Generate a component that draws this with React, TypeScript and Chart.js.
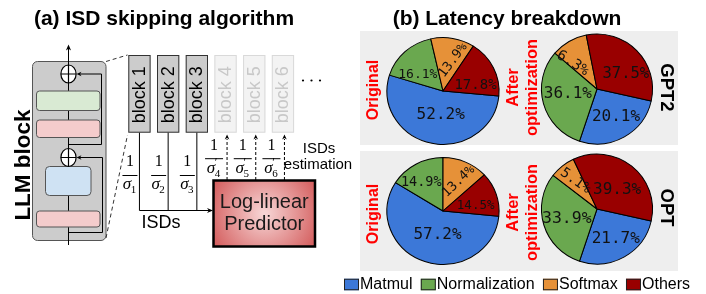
import React, { useEffect, useRef } from 'react';
import { Chart, registerables } from 'chart.js';

Chart.register(...registerables);

// ---------- data ----------
const categories = ['Matmul', 'Normalization', 'Softmax', 'Others'];
const sliceColors = ['#3c78d8', '#6aa84f', '#e69138', '#990000'];

// wedge shares as drawn in the picture (percent)
const gpt2OriginalSlices = [53.3, 16.7, 12.6, 17.4];
const gpt2AfterSlices = [26.6, 31.2, 10.6, 31.6];
const optOriginalSlices = [57.4, 16.1, 13.2, 13.4];
const optAfterSlices = [26.6, 30.4, 7.5, 35.5];

// printed percentages
const gpt2OriginalLabels = [52.2, 16.1, 13.9, 17.8];
const gpt2AfterLabels = [20.1, 36.1, 6.3, 37.5];
const optOriginalLabels = [57.2, 14.9, 13.4, 14.5];
const optAfterLabels = [21.7, 33.9, 5.1, 39.3];

const blockNames = ['block 1', 'block 2', 'block 3', 'block 4', 'block 5', 'block 6'];
const measuredBlockCount = 3;
const modelNames = ['GPT2', 'OPT'];
const stageNames = ['Original', 'After\noptimization'];

// ---------- helpers ----------
const SANS = '"Liberation Sans", Arial, sans-serif';
const SERIF = '"Liberation Serif", "DejaVu Serif", serif';
const MONO = '"DejaVu Sans Mono", monospace';

function rrect(ctx: CanvasRenderingContext2D, x: number, y: number, w: number, h: number, r: number, fill: string | CanvasGradient | null, stroke: string | null, lw = 1) {
  ctx.beginPath();
  ctx.moveTo(x + r, y);
  ctx.lineTo(x + w - r, y);
  ctx.arcTo(x + w, y, x + w, y + r, r);
  ctx.lineTo(x + w, y + h - r);
  ctx.arcTo(x + w, y + h, x + w - r, y + h, r);
  ctx.lineTo(x + r, y + h);
  ctx.arcTo(x, y + h, x, y + h - r, r);
  ctx.lineTo(x, y + r);
  ctx.arcTo(x, y, x + r, y, r);
  ctx.closePath();
  if (fill) { ctx.fillStyle = fill; ctx.fill(); }
  if (stroke) { ctx.strokeStyle = stroke; ctx.lineWidth = lw; ctx.stroke(); }
}

function line(ctx: CanvasRenderingContext2D, x1: number, y1: number, x2: number, y2: number, color = '#000', lw = 1, dash: number[] = []) {
  ctx.save();
  ctx.beginPath();
  ctx.setLineDash(dash);
  ctx.strokeStyle = color;
  ctx.lineWidth = lw;
  ctx.moveTo(x1, y1);
  ctx.lineTo(x2, y2);
  ctx.stroke();
  ctx.restore();
}

function arrowHead(ctx: CanvasRenderingContext2D, x: number, y: number, angle: number, len = 6, half = 2.6, color = '#000') {
  ctx.save();
  ctx.translate(x, y);
  ctx.rotate(angle);
  ctx.beginPath();
  ctx.moveTo(0, 0);
  ctx.lineTo(-len, -half);
  ctx.lineTo(-len * 0.7, 0);
  ctx.lineTo(-len, half);
  ctx.closePath();
  ctx.fillStyle = color;
  ctx.fill();
  ctx.restore();
}

function text(ctx: CanvasRenderingContext2D, s: string, x: number, y: number, font: string, color = '#000', rot = 0, align: CanvasTextAlign = 'center', base: CanvasTextBaseline = 'middle') {
  ctx.save();
  ctx.translate(x, y);
  if (rot) ctx.rotate((rot * Math.PI) / 180);
  ctx.font = font;
  ctx.fillStyle = color;
  ctx.textAlign = align;
  ctx.textBaseline = base;
  ctx.fillText(s, 0, 0);
  ctx.restore();
}

function plusCircle(ctx: CanvasRenderingContext2D, cx: number, cy: number) {
  ctx.save();
  ctx.beginPath();
  ctx.ellipse(cx, cy, 7.6, 9, 0, 0, Math.PI * 2);
  ctx.fillStyle = '#fff';
  ctx.fill();
  ctx.strokeStyle = '#000';
  ctx.lineWidth = 1.2;
  ctx.stroke();
  ctx.beginPath();
  ctx.moveTo(cx - 7.6, cy);
  ctx.lineTo(cx + 7.6, cy);
  ctx.moveTo(cx, cy - 9);
  ctx.lineTo(cx, cy + 9);
  ctx.stroke();
  ctx.restore();
}

function fraction(ctx: CanvasRenderingContext2D, cx: number, yOne: number, yBar: number, ySig: number, sub: string, prime: boolean, barW: number) {
  text(ctx, '1', cx, yOne, `16px ${SERIF}`, '#000');
  line(ctx, cx - barW / 2, yBar, cx + barW / 2, yBar, '#000', 1);
  ctx.save();
  ctx.font = `italic 17px ${SERIF}`;
  const sw = ctx.measureText('σ').width;
  ctx.restore();
  const total = sw + 6;
  const sx = cx - total / 2;
  text(ctx, 'σ', sx, ySig, `italic 17px ${SERIF}`, '#000', 0, 'left', 'alphabetic');
  text(ctx, sub, sx + sw - 0.5, ySig + 4, `11px ${SERIF}`, '#000', 0, 'left', 'alphabetic');
  if (prime) text(ctx, '′', sx + sw - 0.5, ySig - 7, `12px ${SERIF}`, '#000', 0, 'left', 'alphabetic');
}

function drawBackground(ctx: CanvasRenderingContext2D) {
  ctx.save();
  // titles
  text(ctx, '(a) ISD skipping algorithm', 164, 24.5, `bold 21px ${SANS}`, '#000', 0, 'center', 'alphabetic');
  text(ctx, '(b) Latency breakdown', 507, 24.5, `bold 21px ${SANS}`, '#000', 0, 'center', 'alphabetic');

  // ---- LLM block ----
  rrect(ctx, 32.5, 61.5, 73.5, 179, 5, '#cccccc', '#555', 1);
  line(ctx, 68.5, 245, 68.5, 47, '#000', 1);
  arrowHead(ctx, 68.5, 44.5, -Math.PI / 2);
  // residual connections
  line(ctx, 68.5, 144.5, 101.5, 144.5);
  line(ctx, 101.5, 144.5, 101.5, 74);
  line(ctx, 101.5, 74, 79, 74);
  arrowHead(ctx, 76.5, 74, Math.PI, 5, 2.3);
  line(ctx, 68.5, 232.5, 102.5, 232.5);
  line(ctx, 102.5, 232.5, 102.5, 157.5);
  line(ctx, 102.5, 157.5, 79, 157.5);
  arrowHead(ctx, 76.5, 157.5, Math.PI, 5, 2.3);
  rrect(ctx, 36.5, 91, 63.5, 19.5, 3, '#d9ead3', '#555', 1);
  rrect(ctx, 36.5, 120, 63.5, 17.5, 3, '#f4cccc', '#555', 1);
  rrect(ctx, 45.5, 166.5, 45.5, 29, 4, '#cfe2f3', '#555', 1);
  rrect(ctx, 36.5, 211, 63.5, 16, 3, '#f4cccc', '#555', 1);
  plusCircle(ctx, 68.5, 74);
  plusCircle(ctx, 68.5, 157.5);
  text(ctx, 'LLM block', 23.5, 165, `bold 22.5px ${SANS}`, '#000', -90);

  // zoom dashes
  line(ctx, 106, 61.5, 127.5, 55, '#333', 1, [4, 3]);
  line(ctx, 106, 238, 127.5, 135, '#333', 1, [4, 3]);

  // ---- blocks ----
  const bx0 = 128.3, pitch = 28.7, bw = 22.3, by = 55, bh = 77.7;
  const centers: number[] = [];
  blockNames.forEach((name, i) => {
    const x = bx0 + i * pitch;
    const cx = x + bw / 2;
    centers.push(cx);
    const measured = i < measuredBlockCount;
    ctx.save();
    ctx.fillStyle = measured ? '#cccccc' : '#f3f3f3';
    ctx.fillRect(x, by, bw, bh);
    ctx.strokeStyle = measured ? '#333' : '#d9d9d9';
    ctx.lineWidth = 1;
    ctx.strokeRect(x + 0.5, by + 0.5, bw - 1, bh - 1);
    ctx.restore();
    text(ctx, name, cx + 0.5, by + bh / 2 + 1, `18px ${SANS}`, measured ? '#000' : '#c8c8c8', -90);
  });
  // ellipsis
  [303, 311.5, 320].forEach((x) => {
    ctx.beginPath();
    ctx.arc(x, 80.5, 1.1, 0, Math.PI * 2);
    ctx.fillStyle = '#000';
    ctx.fill();
  });

  // measured ISDs lines
  const yIsd = 210.5;
  for (let i = 0; i < measuredBlockCount; i++) {
    line(ctx, centers[i], by + bh, centers[i], yIsd);
    fraction(ctx, centers[i] - 9.5, 162, 175.5, 189, String(i + 1), false, 15);
  }
  line(ctx, centers[0], yIsd, 209, yIsd);
  arrowHead(ctx, 213, yIsd, 0, 6, 2.6);
  text(ctx, 'ISDs', 161, 223.5, `18px ${SANS}`, '#000');

  // estimated ISDs
  for (let i = measuredBlockCount; i < blockNames.length; i++) {
    const x = centers[i] + 1.5;
    line(ctx, x, 180, x, 139, '#000', 1, [3, 2]);
    arrowHead(ctx, x, 134.5, -Math.PI / 2, 5, 2.3);
    fraction(ctx, centers[i] - 11.5, 145.5, 158.7, 173, String(i + 1), true, 18);
  }
  text(ctx, 'ISDs', 319, 149, `15px ${SANS}`, '#000');
  text(ctx, 'estimation', 318, 164.5, `15px ${SANS}`, '#000');

  // predictor
  const px = 213.5, py = 180.5, pw = 101.5, ph = 66;
  const g = ctx.createRadialGradient(px + pw / 2, py + ph / 2, 2, px + pw / 2, py + ph / 2, 62);
  g.addColorStop(0, '#f6d3d3');
  g.addColorStop(1, '#d25757');
  ctx.save();
  ctx.fillStyle = g;
  ctx.fillRect(px, py, pw, ph);
  ctx.strokeStyle = '#000';
  ctx.lineWidth = 2.5;
  ctx.strokeRect(px, py, pw, ph);
  ctx.restore();
  text(ctx, 'Log-linear', px + pw / 2, 202, `20px ${SANS}`, '#1a1a1a');
  text(ctx, 'Predictor', px + pw / 2, 224.5, `20px ${SANS}`, '#1a1a1a');

  // ---- pie panels ----
  ctx.fillStyle = '#eeeeee';
  ctx.fillRect(360, 31, 318, 114);
  ctx.fillRect(360, 151, 318, 120);

  const rowY = [[90, 87.5], [214, 212.5]];
  const modelY = [87.5, 207.5];
  rowY.forEach((ys, r) => {
    text(ctx, stageNames[0], 374, ys[0], `bold 16px ${SANS}`, '#ff0000', -90);
    const parts = stageNames[1].split('\n');
    text(ctx, parts[0], 513.5, ys[1], `bold 16.5px ${SANS}`, '#ff0000', -90);
    text(ctx, parts[1], 532, ys[1], `bold 16.5px ${SANS}`, '#ff0000', -90);
    text(ctx, modelNames[r], 666, modelY[r], `bold 18.5px ${SANS}`, '#000', 90);
  });

  // ---- legend ----
  const lf = `16px ${SANS}`;
  ctx.font = lf;
  const boxW = 15, boxH = 11.5, gapText = 1;
  const widths = categories.map((c) => ctx.measureText(c).width);
  const startX = 344, endX = 690;
  const used = widths.reduce((a, b) => a + b, 0) + categories.length * (boxW + gapText);
  const gap = (endX - startX - used) / (categories.length - 1);
  let lx = startX;
  const ly = 284.5;
  categories.forEach((c, i) => {
    ctx.fillStyle = sliceColors[i];
    ctx.fillRect(lx, ly - boxH / 2, boxW, boxH);
    ctx.strokeStyle = '#222';
    ctx.lineWidth = 1;
    ctx.strokeRect(lx + 0.5, ly - boxH / 2 + 0.5, boxW - 1, boxH - 1);
    text(ctx, c, lx + boxW + gapText, ly + 0.5, lf, '#000', 0, 'left', 'middle');
    lx += boxW + gapText + widths[i] + gap;
  });
  ctx.restore();
}

// ---------- pies ----------
type PieSpec = {
  slices: number[];
  labels: number[];
  cx: number;
  cy: number;
  rotation: number;
  radius: number;
  scaleX: number;
  shift: number[];
  rf: number[];
  size: number[];
  rot: number[];
};

const pies: PieSpec[] = [
  { slices: gpt2OriginalSlices, labels: gpt2OriginalLabels, cx: 443, cy: 91, rotation: 95.4, radius: 53.4, scaleX: 1.05,
    shift: [-6, -13.6, 7.3, 15.3], rf: [0.44, 0.54, 0.6, 0.59], size: [16, 13, 13, 14], rot: [0, 0, -53, 0] },
  { slices: gpt2AfterSlices, labels: gpt2AfterLabels, cx: 597, cy: 89, rotation: 102.6, radius: 55, scaleX: 1.01,
    shift: [-4.5, 6.7, -13, 15.8], rf: [0.61, 0.53, 0.64, 0.59], size: [16, 16, 14.5, 15.5], rot: [0, 0, 32, 0] },
  { slices: optOriginalSlices, labels: optOriginalLabels, cx: 443, cy: 211, rotation: 95.7, radius: 53.4, scaleX: 1.05,
    shift: [-6.3, -7, 2.9, 9.1], rf: [0.45, 0.66, 0.62, 0.59], size: [16, 13.5, 13, 12.5], rot: [0, 0, -44, 0] },
  { slices: optAfterSlices, labels: optAfterLabels, cx: 597, cy: 209, rotation: 102.6, radius: 55, scaleX: 1.01,
    shift: [-2.4, -0.8, 1.3, 7.7], rf: [0.64, 0.57, 0.64, 0.5], size: [16, 16.5, 14, 16], rot: [0, 0, 35, 0] },
];

const PIE_BOX = 130;

function piePlugin(spec: PieSpec) {
  return {
    id: 'pieDecor',
    beforeDatasetsDraw(chart: any) {
      const arc = chart.getDatasetMeta(0).data[0];
      const ctx = chart.ctx;
      ctx.save();
      ctx.translate(arc.x, arc.y);
      ctx.scale(spec.scaleX, 1);
      ctx.translate(-arc.x, -arc.y);
    },
    afterDatasetsDraw(chart: any) {
      const ctx = chart.ctx as CanvasRenderingContext2D;
      ctx.restore();
      const arcs = chart.getDatasetMeta(0).data;
      arcs.forEach((a: any, i: number) => {
        const mid = (a.startAngle + a.endAngle) / 2 + (spec.shift[i] * Math.PI) / 180;
        const r = a.outerRadius * spec.rf[i];
        const x = a.x + Math.cos(mid) * r * spec.scaleX;
        const y = a.y + Math.sin(mid) * r;
        text(ctx, spec.labels[i].toFixed(1) + '%', x, y, `${spec.size[i]}px ${MONO}`, '#111', spec.rot[i]);
      });
    },
  };
}

export default function App() {
  const bgRef = useRef<HTMLCanvasElement>(null);
  const p0 = useRef<HTMLCanvasElement>(null);
  const p1 = useRef<HTMLCanvasElement>(null);
  const p2 = useRef<HTMLCanvasElement>(null);
  const p3 = useRef<HTMLCanvasElement>(null);
  const pieRefs = [p0, p1, p2, p3];

  useEffect(() => {
    document.body.style.margin = '0';
    const charts: Chart[] = [];
    charts.push(
      new Chart(bgRef.current as HTMLCanvasElement, {
        type: 'bar',
        data: { labels: [], datasets: [] },
        options: {
          responsive: false,
          animation: false,
          devicePixelRatio: 1,
          events: [],
          plugins: { legend: { display: false }, tooltip: { enabled: false } },
          scales: { x: { display: false }, y: { display: false } },
        },
        plugins: [{ id: 'diagram', beforeDraw: (c: any) => drawBackground(c.ctx) }],
      } as any)
    );
    pies.forEach((spec, i) => {
      charts.push(
        new Chart(pieRefs[i].current as HTMLCanvasElement, {
          type: 'pie',
          data: {
            labels: categories,
            datasets: [
              {
                data: spec.slices,
                backgroundColor: sliceColors,
                borderColor: '#000',
                borderWidth: 1,
              },
            ],
          },
          options: {
            responsive: false,
            animation: false,
            devicePixelRatio: 1,
            events: [],
            rotation: spec.rotation,
            radius: spec.radius,
            layout: { padding: 0 },
            plugins: { legend: { display: false }, tooltip: { enabled: false } },
          },
          plugins: [piePlugin(spec)],
        } as any)
      );
    });
    return () => charts.forEach((c) => c.destroy());
  }, []);

  return (
    <div style={{ position: 'relative', width: 706, height: 294, background: '#fff', overflow: 'hidden' }}>
      <canvas ref={bgRef} width={706} height={294} style={{ position: 'absolute', left: 0, top: 0 }} />
      {pies.map((p, i) => (
        <canvas
          key={i}
          ref={pieRefs[i]}
          width={PIE_BOX}
          height={PIE_BOX}
          style={{ position: 'absolute', left: p.cx - PIE_BOX / 2, top: p.cy - PIE_BOX / 2 }}
        />
      ))}
    </div>
  );
}
